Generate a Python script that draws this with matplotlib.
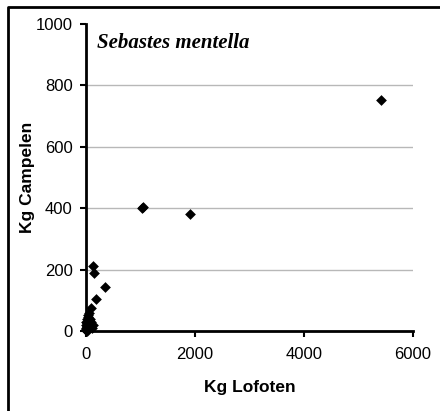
import matplotlib
matplotlib.use("Agg")
import matplotlib.pyplot as plt
from matplotlib.lines import Line2D

# Catch (kg) per station
kg_lofoten = [5410, 1045, 1030, 1900, 350, 130, 150, 185, 90, 40, 130,
              60, 80, 100, 50, 30, 20, 10, 5, 0, 15, 25, 40, 70, 110,
              5, 10, 0, 20, 35, 60, 2, 8, 45]
kg_campelen = [753, 405, 400, 381, 143, 212, 190, 104, 75, 52, 20,
               60, 40, 30, 35, 45, 25, 15, 8, 2, 5, 12, 18, 22, 10,
               30, 0, 20, 40, 5, 15, 3, 10, 28]

x_ticks = [0, 2000, 4000, 6000]
y_ticks = [0, 200, 400, 600, 800, 1000]

plt.rcParams["font.family"] = ["Liberation Sans", "DejaVu Sans"]

fig = plt.figure(figsize=(4.4, 4.11), dpi=100)
ax = fig.add_axes([0.1955, 0.1946, 0.9386 - 0.1955, 0.9416 - 0.1946])

for y in y_ticks[1:-1]:
    ax.axhline(y, color="#b8b8b8", linewidth=1.0, zorder=1)

ax.scatter(kg_lofoten, kg_campelen, marker="D", s=30, color="black",
           linewidths=0, zorder=3, clip_on=False)

ax.set_xlim(0, 6000)
ax.set_ylim(0, 1000)
ax.set_xticks(x_ticks)
ax.set_yticks(y_ticks)
ax.tick_params(axis="both", direction="out", length=4.5, width=1.5,
               labelsize=12, colors="black")
ax.tick_params(axis="x", pad=7)
ax.tick_params(axis="y", pad=5)

for side in ("top", "right"):
    ax.spines[side].set_visible(False)
for side in ("left", "bottom"):
    ax.spines[side].set_linewidth(2)

ax.set_xlabel("Kg Lofoten", fontsize=12.5, fontweight="bold")
ax.set_ylabel("Kg Campelen", fontsize=12.5, fontweight="bold")
ax.xaxis.set_label_coords(0.5, -0.16)
ax.yaxis.set_label_coords(-0.156, 0.5)

ax.text(0.034, 0.938, "Sebastes mentella", transform=ax.transAxes,
        fontsize=15, fontweight="bold", fontstyle="italic",
        family=["Liberation Serif", "DejaVu Serif"], va="center", ha="left")

# frame round the chart (cropped: only top and left edges show)
fig.lines.append(Line2D([7.5 / 440, 7.5 / 440, 1.0], [0.0, 1 - 7.5 / 411, 1 - 7.5 / 411],
                        transform=fig.transFigure, color="black", linewidth=2))

fig.savefig("out.png", dpi=100)
